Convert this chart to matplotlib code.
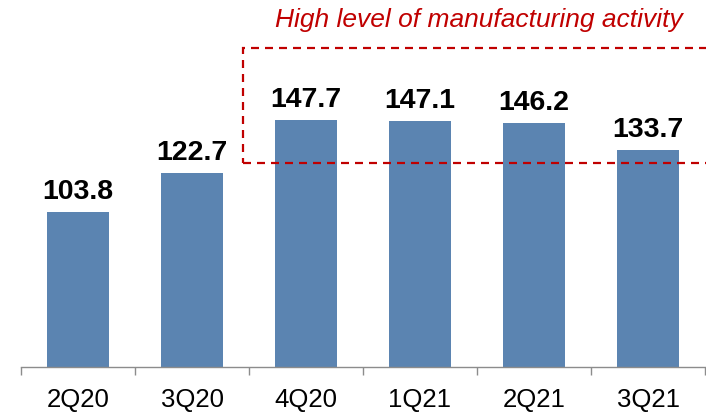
import numpy as np
import matplotlib
matplotlib.use('Agg')
import matplotlib.pyplot as plt
from matplotlib.patches import Rectangle

quarters = ['2Q20', '3Q20', '4Q20', '1Q21', '2Q21', '3Q21']
values = [103.8, 122.7, 147.7, 147.1, 146.2, 133.7]
note = 'High level of manufacturing activity'

plt.rcParams['font.family'] = ['Liberation Sans', 'DejaVu Sans']

fig = plt.figure(figsize=(7.06, 4.15), dpi=100)
ax = fig.add_axes([21 / 706, 48 / 415, 684 / 706, 367 / 415])

x = np.arange(len(quarters))
bars = ax.bar(x, values, width=0.55, color='#5b84b1', bottom=0)
ax.set_ylim(30, 205)
ax.set_xlim(-0.5, len(quarters) - 0.5)

for rect, v in zip(bars, values):
    ax.annotate(f'{v:.1f}', (rect.get_x() + rect.get_width() / 2, v),
                xytext=(0, 5), textcoords='offset points',
                ha='center', va='bottom', fontsize=20.5, fontweight='bold')

# dividing ticks between categories, labels centred under bars
ax.set_xticks(np.arange(-0.5, len(quarters)), labels=[])
ax.set_xticks(x, labels=quarters, minor=True)
ax.tick_params(axis='x', which='major', length=6, width=1, color='#8c8c8c', direction='out')
ax.tick_params(axis='x', which='minor', length=0, pad=15, labelsize=18.5)
ax.set_yticks([])
for side in ['left', 'right', 'top']:
    ax.spines[side].set_visible(False)
ax.spines['bottom'].set_color('#8c8c8c')
ax.spines['bottom'].set_linewidth(1)

# highlighted period
box = Rectangle((1.45, 127.3), 4.5, 54.9, fill=False, edgecolor='#c00000',
                linewidth=1.6, linestyle=(0, (3.6, 2.7)), clip_on=False)
ax.add_patch(box)
ax.text(3.52, 195.5, note, ha='center', va='center', fontsize=19,
        style='italic', color='#c00000')

fig.savefig('out.png', dpi=100)
